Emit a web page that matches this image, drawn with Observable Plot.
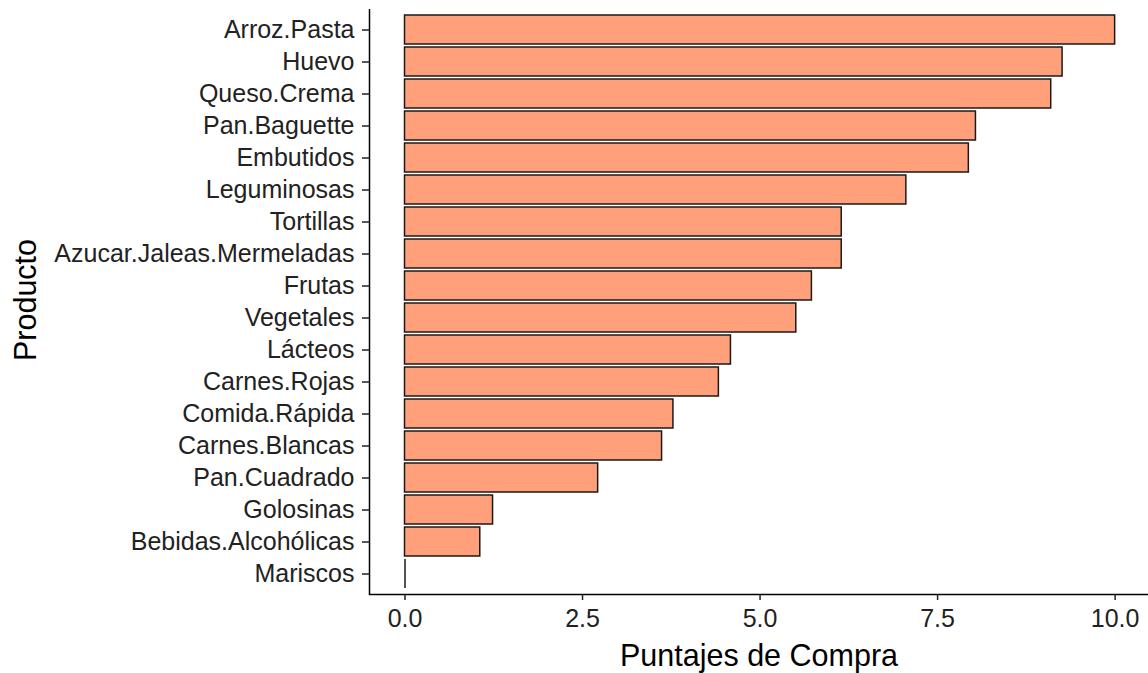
<!DOCTYPE html>
<html>
<head>
<meta charset="utf-8">
<script src="https://cdn.jsdelivr.net/npm/d3@7"></script>
<script src="https://cdn.jsdelivr.net/npm/@observablehq/plot@0.6"></script>
<style>
  html, body { margin: 0; padding: 0; background: #fff; }
  #chart svg { display: block; }
</style>
</head>
<body>
<div id="chart"></div>
<script>
const productos = [
  "Arroz.Pasta", "Huevo", "Queso.Crema", "Pan.Baguette", "Embutidos",
  "Leguminosas", "Tortillas", "Azucar.Jaleas.Mermeladas", "Frutas", "Vegetales",
  "Lácteos", "Carnes.Rojas", "Comida.Rápida", "Carnes.Blancas", "Pan.Cuadrado",
  "Golosinas", "Bebidas.Alcohólicas", "Mariscos"
];
const puntajes = [
  10.0, 9.26, 9.10, 8.04, 7.94,
  7.06, 6.15, 6.15, 5.73, 5.51,
  4.59, 4.42, 3.78, 3.62, 2.72,
  1.24, 1.06, 0
];
const xTicks = [0, 2.5, 5, 7.5, 10];
const xTitle = "Puntajes de Compra";
const yTitle = "Producto";

const data = productos.map((p, i) => ({producto: p, puntaje: puntajes[i]}));

const chart = Plot.plot({
  width: 1148,
  height: 673,
  marginLeft: 369,
  marginRight: 0,
  marginTop: 9,
  marginBottom: 79,
  style: {fontFamily: "'Liberation Sans', Arial, sans-serif", background: "#fff"},
  x: {domain: [-0.5, 10.47], axis: null},
  y: {domain: productos, paddingInner: 0.1, paddingOuter: 0.15, axis: null},
  marks: [
    Plot.barX(data.filter(d => d.puntaje > 0), {
      x1: 0, x2: "puntaje", y: "producto",
      fill: "#FFA07A", stroke: "#1a1a1a", strokeWidth: 1.5
    }),
    Plot.tickX(data.filter(d => d.puntaje === 0), {
      x: "puntaje", y: "producto", stroke: "#1a1a1a", strokeWidth: 1.5
    }),
    Plot.ruleX([-0.5], {stroke: "black", strokeWidth: 1.5}),
    Plot.frame({anchor: "bottom", stroke: "black", strokeWidth: 1.5}),
    Plot.axisX({
      ticks: xTicks, tickFormat: d3.format(".1f"), tickSize: 6, tickPadding: 9,
      fontSize: 25, color: "#222", strokeWidth: 1.5, label: null
    }),
    Plot.axisY({
      tickSize: 7, tickPadding: 8, fontSize: 25, color: "#222", strokeWidth: 1.5, label: null
    }),
    Plot.text([xTitle], {
      text: d => d, frameAnchor: "bottom", dy: 71, fontSize: 30.5, fill: "black"
    }),
    Plot.text([yTitle], {
      text: d => d, frameAnchor: "left", textAnchor: "middle", dx: -343, dy: -2,
      rotate: -90, fontSize: 30.5, fill: "black"
    })
  ]
});
document.getElementById("chart").appendChild(chart);
</script>
</body>
</html>
